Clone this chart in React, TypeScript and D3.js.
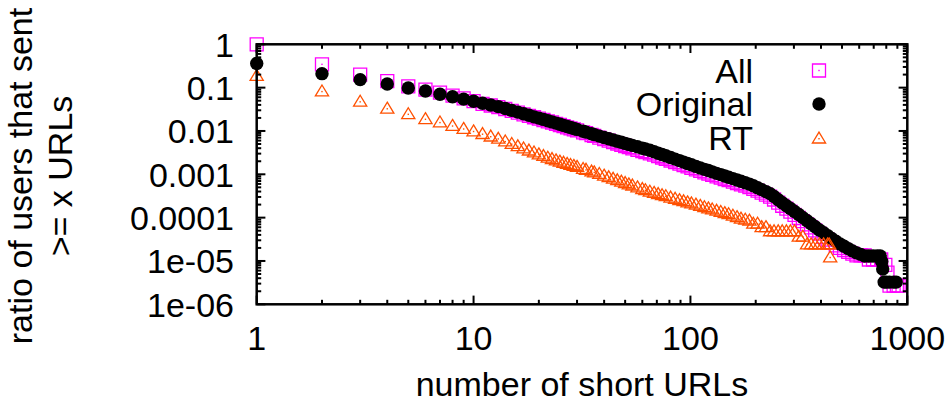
import React from 'react';
import * as d3 from 'd3';

// Axis ticks
const xTickValues = [1, 10, 100, 1000];
const xTickLabels = ['1', '10', '100', '1000'];
const yTickValues = [1, 0.1, 0.01, 0.001, 0.0001, 1e-5, 1e-6];
const yTickLabels = ['1', '0.1', '0.01', '0.001', '0.0001', '1e-05', '1e-06'];

const xAxisTitle = 'number of short URLs';
const yAxisTitle = ['ratio of users that sent', '>= x URLs'];
const legendLabels = ['All', 'Original', 'RT'];

// Complementary CDF samples: number of short URLs -> ratio of users
const allCounts = [
  1, 2, 3, 4, 5, 6, 7, 8, 9, 10, 11, 12, 13, 14, 15, 16, 17, 18, 19, 20, 21, 22, 23, 24, 25, 26, 27, 28, 29, 30,
  32, 33, 35, 36, 38, 40, 42, 44, 46, 48, 50, 52, 54, 57, 60, 62, 65, 68, 71, 74, 77, 81, 85, 89, 93, 97,
  101, 106, 111, 116, 121, 126, 132, 138, 144, 150, 157, 164, 171, 179, 187, 195, 204, 213, 223, 233, 243,
  254, 265, 277, 289, 302, 316, 330, 345, 360, 376, 393, 411, 429, 448, 468, 489, 511, 534, 558, 583, 609,
  636, 665, 695, 726, 758, 792, 810, 828, 865, 895, 912,
];
const allRatio = [
  1.0, 0.345, 0.2, 0.142, 0.107, 0.09, 0.0768, 0.0655, 0.0567, 0.049, 0.0423, 0.0387, 0.0355, 0.0321, 0.029,
  0.0265, 0.0242, 0.0224, 0.0207, 0.0193, 0.0179, 0.0167, 0.0157, 0.0146, 0.01373, 0.01295, 0.01215, 0.0115,
  0.01092, 0.01036, 0.0093, 0.00888, 0.00807, 0.00769, 0.00703, 0.00645, 0.00596, 0.00553, 0.00514, 0.00479,
  0.0045, 0.00422, 0.00398, 0.00367, 0.00341, 0.00327, 0.00305, 0.00283, 0.00262, 0.00244, 0.00228, 0.00208,
  0.00191, 0.00176, 0.00163, 0.00152, 0.00141, 0.0013, 0.0012, 0.00111, 0.00104, 0.000973, 0.000899, 0.000839,
  0.000779, 0.00073, 0.000678, 0.00063, 0.000588, 0.000545, 0.000506, 0.000463, 0.000418, 0.000378, 0.00034,
  0.000306, 0.000262, 0.000221, 0.000188, 0.000161, 0.000138, 0.000116, 9.8e-5, 8.31e-5, 7.01e-5, 5.98e-5,
  5.1e-5, 4.28e-5, 3.61e-5, 3.11e-5, 2.67e-5, 2.3e-5, 2.01e-5, 1.79e-5, 1.62e-5, 1.48e-5, 1.35e-5, 1.35e-5,
  1.35e-5, 1.08e-5, 1.08e-5, 1.08e-5, 1.08e-5, 8.1e-6, 5.4e-6, 2.7e-6, 2.7e-6, 2.7e-6, 2.7e-6,
];

const originalCounts = [
  1, 2, 3, 4, 5, 6, 7, 8, 9, 10, 11, 12, 13, 14, 15, 16, 17, 18, 19, 20, 21, 22, 23, 24, 25, 26, 27, 28, 29, 30,
  32, 33, 35, 36, 38, 40, 42, 44, 46, 48, 50, 52, 54, 57, 60, 62, 65, 68, 71, 74, 77, 81, 85, 89, 93, 97,
  101, 106, 111, 116, 121, 126, 132, 138, 144, 150, 157, 164, 171, 179, 187, 195, 204, 213, 223, 233, 243,
  254, 265, 277, 289, 302, 316, 330, 345, 360, 376, 393, 411, 429, 448, 468, 489, 511, 534, 558, 583, 609,
  636, 665, 695, 726, 750, 762, 770, 782, 800, 828, 865, 889,
];
const originalRatio = [
  0.36, 0.21, 0.153, 0.121, 0.098, 0.0836, 0.0702, 0.0614, 0.0543, 0.0484, 0.0435, 0.0397, 0.0365, 0.033,
  0.0298, 0.0272, 0.0249, 0.023, 0.0212, 0.0198, 0.0185, 0.01725, 0.0162, 0.0152, 0.01424, 0.01343, 0.01268,
  0.01202, 0.0114, 0.01086, 0.00982, 0.0094, 0.0086, 0.00824, 0.00761, 0.00706, 0.00659, 0.00618, 0.0058,
  0.00547, 0.00516, 0.0049, 0.00464, 0.00431, 0.004, 0.00383, 0.00358, 0.00332, 0.00307, 0.00286, 0.00267,
  0.00244, 0.00224, 0.00207, 0.00191, 0.00178, 0.00166, 0.00152, 0.0014, 0.0013, 0.00122, 0.00114, 0.00105,
  0.000984, 0.000913, 0.000856, 0.000795, 0.000738, 0.000689, 0.000639, 0.000594, 0.000543, 0.00049,
  0.000443, 0.000399, 0.000358, 0.000307, 0.000259, 0.000221, 0.000188, 0.000162, 0.000138, 0.000118,
  0.0001, 8.45e-5, 7.2e-5, 6.14e-5, 5.21e-5, 4.47e-5, 3.85e-5, 3.3e-5, 2.84e-5, 2.46e-5, 2.18e-5, 1.93e-5,
  1.71e-5, 1.54e-5, 1.42e-5, 1.3e-5, 1.3e-5, 1.3e-5, 1.3e-5, 1.3e-5, 9.75e-6, 6.5e-6, 3.25e-6, 3.25e-6,
  3.25e-6, 3.25e-6, 3.25e-6,
];

const rtCounts = [
  1, 2, 3, 4, 5, 6, 7, 8, 9, 10, 11, 12, 13, 14, 15, 16, 17, 18, 19, 20, 21, 22, 23, 24, 25, 26, 27, 28, 29, 30,
  32, 33, 35, 36, 38, 40, 42, 44, 46, 48, 50, 52, 54, 57, 60, 62, 65, 68, 71, 74, 77, 81, 85, 89, 93, 97,
  101, 106, 111, 116, 121, 126, 132, 138, 144, 150, 157, 164, 171, 179, 187, 195, 204, 213, 223, 233, 243,
  254, 265, 277, 289, 302, 316, 330, 345, 360, 376, 393, 411, 429, 436, 441,
];
const rtRatio = [
  0.185, 0.081, 0.047, 0.0325, 0.0242, 0.0186, 0.0156, 0.013, 0.0111, 0.00972, 0.00842, 0.00737, 0.00656,
  0.00568, 0.00497, 0.0044, 0.00392, 0.0035, 0.00317, 0.00286, 0.00262, 0.0024, 0.00223, 0.00208, 0.00195,
  0.00183, 0.00173, 0.00163, 0.00155, 0.00147, 0.00132, 0.00126, 0.00115, 0.0011, 0.00101, 0.000923, 0.000848,
  0.000783, 0.000723, 0.000671, 0.000623, 0.000581, 0.000545, 0.000496, 0.000453, 0.000427, 0.000394,
  0.00037, 0.000347, 0.000327, 0.00031, 0.000288, 0.00027, 0.000252, 0.000237, 0.000223, 0.000212, 0.000198,
  0.000185, 0.000173, 0.000162, 0.000153, 0.000143, 0.000134, 0.000126, 0.000119, 0.00011, 0.000102, 9.4e-5,
  8.9e-5, 8.45e-5, 7.2e-5, 7.2e-5, 6e-5, 6e-5, 4.8e-5, 4.8e-5, 4.8e-5, 4.8e-5, 4.8e-5, 4.8e-5, 4.8e-5,
  3.6e-5, 3.6e-5, 2.4e-5, 2.4e-5, 2.4e-5, 2.4e-5, 2.4e-5, 2.4e-5, 2.4e-5, 1.2e-5,
];

const W = 951;
const H = 408;
const FRAME = { left: 256.7, right: 907.3, top: 44.3, bottom: 304.3 };
const FONT = '"Liberation Sans", Arial, Helvetica, sans-serif';
const FONT_SIZE = 34;

const MAGENTA = '#ff00ff';
const ORANGE = '#ff5000';

const isDecade = (v: number) => Math.abs(Math.log10(v) - Math.round(Math.log10(v))) < 1e-9;

type Kind = 'square' | 'circle' | 'triangle';

function Marker({ kind, cx, cy }: { kind: Kind; cx: number; cy: number }) {
  if (kind === 'circle') {
    return <circle cx={cx} cy={cy} r={6.7} fill="#000" />;
  }
  if (kind === 'square') {
    return (
      <g transform={`translate(${cx},${cy})`}>
        <path d="M-6.5,-6.5h13v13h-13z" fill="none" stroke={MAGENTA} strokeWidth={1.3} />
        <rect x={-0.7} y={-0.7} width={1.4} height={1.4} fill={MAGENTA} />
      </g>
    );
  }
  return (
    <g transform={`translate(${cx},${cy})`}>
      <path d="M0,-6.6L6.6,4.3L-6.6,4.3z" fill="none" stroke={ORANGE} strokeWidth={1.3} strokeLinejoin="miter" />
      <rect x={-0.7} y={-0.7} width={1.4} height={1.4} fill={ORANGE} />
    </g>
  );
}

export default function App() {
  const x = d3.scaleLog().domain([1, 1000]).range([FRAME.left, FRAME.right]);
  const y = d3.scaleLog().domain([1e-6, 1]).range([FRAME.bottom, FRAME.top]);

  const xMinor = x.ticks().filter((v) => !isDecade(v));
  const yMinor = y.ticks().filter((v) => !isDecade(v));

  const series: { kind: Kind; counts: number[]; ratio: number[] }[] = [
    { kind: 'square', counts: allCounts, ratio: allRatio },
    { kind: 'circle', counts: originalCounts, ratio: originalRatio },
    { kind: 'triangle', counts: rtCounts, ratio: rtRatio },
  ];
  const legendKinds: Kind[] = ['square', 'circle', 'triangle'];

  const MAJOR = 8.7;
  const MINOR = 4.5;
  const tickStroke = { stroke: '#000', strokeWidth: 2 };

  return (
    <svg
      width={W}
      height={H}
      viewBox={`0 0 ${W} ${H}`}
      style={{ position: 'absolute', left: 0, top: 0, background: '#fff' }}
      fontFamily={FONT}
      fontSize={FONT_SIZE}
    >
      <rect x={0} y={0} width={W} height={H} fill="#fff" />

      {/* data points */}
      {series.map((s) => (
        <g key={s.kind}>
          {s.counts.map((c, i) => (
            <Marker key={i} kind={s.kind} cx={x(c)} cy={y(s.ratio[i])} />
          ))}
        </g>
      ))}

      {/* legend */}
      {legendLabels.map((label, i) => {
        const rowY = 70.5 + i * 33.5;
        return (
          <g key={label}>
            <text x={753} y={rowY + 12} textAnchor="end" fill="#000">
              {label}
            </text>
            <Marker kind={legendKinds[i]} cx={819} cy={legendKinds[i] === 'triangle' ? rowY + 1.2 : rowY} />
          </g>
        );
      })}

      {/* ticks on all four sides */}
      {xTickValues.map((v) => (
        <g key={`xM${v}`} {...tickStroke}>
          <line x1={x(v)} x2={x(v)} y1={FRAME.bottom} y2={FRAME.bottom - MAJOR} />
          <line x1={x(v)} x2={x(v)} y1={FRAME.top} y2={FRAME.top + MAJOR} />
        </g>
      ))}
      {xMinor.map((v) => (
        <g key={`xm${v}`} {...tickStroke}>
          <line x1={x(v)} x2={x(v)} y1={FRAME.bottom} y2={FRAME.bottom - MINOR} />
          <line x1={x(v)} x2={x(v)} y1={FRAME.top} y2={FRAME.top + MINOR} />
        </g>
      ))}
      {yTickValues.map((v) => (
        <g key={`yM${v}`} {...tickStroke}>
          <line x1={FRAME.left} x2={FRAME.left + MAJOR} y1={y(v)} y2={y(v)} />
          <line x1={FRAME.right} x2={FRAME.right - MAJOR} y1={y(v)} y2={y(v)} />
        </g>
      ))}
      {yMinor.map((v) => (
        <g key={`ym${v}`} {...tickStroke}>
          <line x1={FRAME.left} x2={FRAME.left + MINOR} y1={y(v)} y2={y(v)} />
          <line x1={FRAME.right} x2={FRAME.right - MINOR} y1={y(v)} y2={y(v)} />
        </g>
      ))}

      {/* border */}
      <rect
        x={FRAME.left}
        y={FRAME.top}
        width={FRAME.right - FRAME.left}
        height={FRAME.bottom - FRAME.top}
        fill="none"
        stroke="#000"
        strokeWidth={2.5}
      />

      {/* tick labels */}
      {xTickValues.map((v, i) => (
        <text key={`xl${v}`} x={x(v)} y={350} textAnchor="middle" fill="#000">
          {xTickLabels[i]}
        </text>
      ))}
      {yTickValues.map((v, i) => (
        <text key={`yl${v}`} x={234} y={y(v) + 12.5} textAnchor="end" fill="#000">
          {yTickLabels[i]}
        </text>
      ))}

      {/* axis titles */}
      <text x={(FRAME.left + FRAME.right) / 2} y={396} textAnchor="middle" fill="#000">
        {xAxisTitle}
      </text>
      {yAxisTitle.map((line, i) => {
        const bx = i === 0 ? 32 : 72;
        const cy = 176;
        return (
          <text
            key={line}
            x={bx}
            y={cy}
            transform={`rotate(-90, ${bx}, ${cy})`}
            textAnchor="middle"
            fill="#000"
          >
            {line}
          </text>
        );
      })}
    </svg>
  );
}
